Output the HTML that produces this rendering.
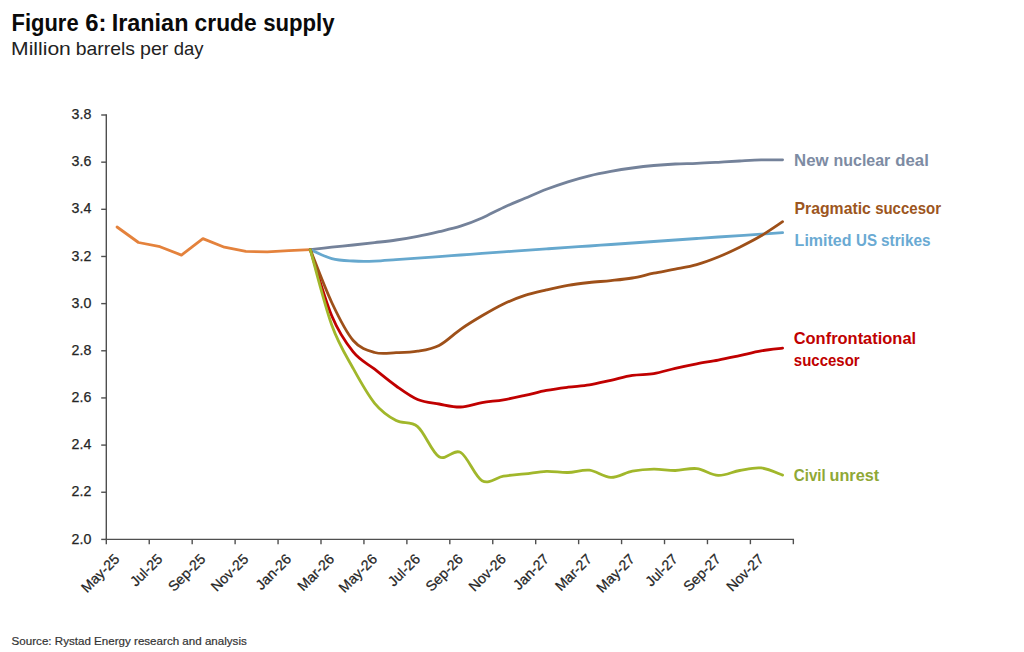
<!DOCTYPE html>
<html><head><meta charset="utf-8"><title>Figure 6: Iranian crude supply</title>
<style>
html,body{margin:0;padding:0;background:#fff;width:1024px;height:652px;overflow:hidden;}
svg{display:block;}
</style></head><body>
<svg width="1024" height="652" viewBox="0 0 1024 652">
<rect width="1024" height="652" fill="#ffffff"/>
<g font-family="Liberation Sans, sans-serif" font-weight="bold" font-size="23.3"><text y="30.60" fill="#0a0a0a"><tspan x="11.59" textLength="67.03" lengthAdjust="spacingAndGlyphs">Figure</tspan> <tspan x="85.18" textLength="21.23" lengthAdjust="spacingAndGlyphs">6:</tspan> <tspan x="111.69" textLength="76.75" lengthAdjust="spacingAndGlyphs">Iranian</tspan> <tspan x="194.62" textLength="62.12" lengthAdjust="spacingAndGlyphs">crude</tspan> <tspan x="263.14" textLength="71.42" lengthAdjust="spacingAndGlyphs">supply</tspan></text></g>
<g font-family="Liberation Sans, sans-serif" font-size="18.5"><text y="55.10" fill="#222222"><tspan x="11.09" textLength="59.77" lengthAdjust="spacingAndGlyphs">Million</tspan> <tspan x="75.75" textLength="59.23" lengthAdjust="spacingAndGlyphs">barrels</tspan> <tspan x="140.03" textLength="28.34" lengthAdjust="spacingAndGlyphs">per</tspan> <tspan x="173.80" textLength="29.75" lengthAdjust="spacingAndGlyphs">day</tspan></text></g>
<g stroke="#4f4f4f" stroke-width="1.4" fill="none"><line x1="106.30" y1="114.30" x2="106.30" y2="540.10"/><line x1="105.60" y1="539.40" x2="794.04" y2="539.40"/><line x1="106.30" y1="539.40" x2="106.30" y2="544.2"/><line x1="149.24" y1="539.40" x2="149.24" y2="544.2"/><line x1="192.18" y1="539.40" x2="192.18" y2="544.2"/><line x1="235.12" y1="539.40" x2="235.12" y2="544.2"/><line x1="278.06" y1="539.40" x2="278.06" y2="544.2"/><line x1="321.00" y1="539.40" x2="321.00" y2="544.2"/><line x1="363.94" y1="539.40" x2="363.94" y2="544.2"/><line x1="406.88" y1="539.40" x2="406.88" y2="544.2"/><line x1="449.82" y1="539.40" x2="449.82" y2="544.2"/><line x1="492.76" y1="539.40" x2="492.76" y2="544.2"/><line x1="535.70" y1="539.40" x2="535.70" y2="544.2"/><line x1="578.64" y1="539.40" x2="578.64" y2="544.2"/><line x1="621.58" y1="539.40" x2="621.58" y2="544.2"/><line x1="664.52" y1="539.40" x2="664.52" y2="544.2"/><line x1="707.46" y1="539.40" x2="707.46" y2="544.2"/><line x1="750.40" y1="539.40" x2="750.40" y2="544.2"/><line x1="793.34" y1="539.40" x2="793.34" y2="544.2"/><line x1="101.2" y1="115.00" x2="106.30" y2="115.00"/><line x1="101.2" y1="162.16" x2="106.30" y2="162.16"/><line x1="101.2" y1="209.31" x2="106.30" y2="209.31"/><line x1="101.2" y1="256.47" x2="106.30" y2="256.47"/><line x1="101.2" y1="303.62" x2="106.30" y2="303.62"/><line x1="101.2" y1="350.78" x2="106.30" y2="350.78"/><line x1="101.2" y1="397.93" x2="106.30" y2="397.93"/><line x1="101.2" y1="445.09" x2="106.30" y2="445.09"/><line x1="101.2" y1="492.24" x2="106.30" y2="492.24"/><line x1="101.2" y1="539.40" x2="106.30" y2="539.40"/></g>
<g font-family="Liberation Sans, sans-serif" font-size="14.2" fill="#262626" stroke="#262626" stroke-width="0.25" text-anchor="end"><text x="91.3" y="119.10">3.8</text><text x="91.3" y="166.26">3.6</text><text x="91.3" y="213.41">3.4</text><text x="91.3" y="260.57">3.2</text><text x="91.3" y="307.72">3.0</text><text x="91.3" y="354.88">2.8</text><text x="91.3" y="402.03">2.6</text><text x="91.3" y="449.19">2.4</text><text x="91.3" y="496.34">2.2</text><text x="91.3" y="543.50">2.0</text></g>
<g font-family="Liberation Sans, sans-serif" font-size="14.2" fill="#262626" stroke="#262626" stroke-width="0.25" text-anchor="end"><text x="120.40" y="560.00" transform="rotate(-45 120.40 560.00)">May-25</text><text x="163.34" y="560.00" transform="rotate(-45 163.34 560.00)">Jul-25</text><text x="206.28" y="560.00" transform="rotate(-45 206.28 560.00)">Sep-25</text><text x="249.22" y="560.00" transform="rotate(-45 249.22 560.00)">Nov-25</text><text x="292.16" y="560.00" transform="rotate(-45 292.16 560.00)">Jan-26</text><text x="335.10" y="560.00" transform="rotate(-45 335.10 560.00)">Mar-26</text><text x="378.04" y="560.00" transform="rotate(-45 378.04 560.00)">May-26</text><text x="420.98" y="560.00" transform="rotate(-45 420.98 560.00)">Jul-26</text><text x="463.92" y="560.00" transform="rotate(-45 463.92 560.00)">Sep-26</text><text x="506.86" y="560.00" transform="rotate(-45 506.86 560.00)">Nov-26</text><text x="549.80" y="560.00" transform="rotate(-45 549.80 560.00)">Jan-27</text><text x="592.74" y="560.00" transform="rotate(-45 592.74 560.00)">Mar-27</text><text x="635.68" y="560.00" transform="rotate(-45 635.68 560.00)">May-27</text><text x="678.62" y="560.00" transform="rotate(-45 678.62 560.00)">Jul-27</text><text x="721.56" y="560.00" transform="rotate(-45 721.56 560.00)">Sep-27</text><text x="764.50" y="560.00" transform="rotate(-45 764.50 560.00)">Nov-27</text></g>
<g fill="none" stroke-width="2.8" stroke-linecap="round" stroke-linejoin="round"><path d="M117.03,227.00 L138.50,242.50 L159.97,246.70 L181.44,255.10 L202.91,238.60 L224.38,247.20 L245.86,251.40 L267.32,251.90 L288.80,250.70 L310.26,249.60" stroke="#E4823C"/><path d="M310.26,249.60 C313.84,249.20 324.58,247.97 331.74,247.20 C338.89,246.43 346.05,245.77 353.20,245.00 C360.36,244.23 367.52,243.43 374.68,242.60 C381.83,241.77 388.99,241.05 396.14,240.00 C403.30,238.95 410.46,237.70 417.62,236.30 C424.77,234.90 431.93,233.28 439.08,231.60 C446.24,229.92 453.40,228.47 460.56,226.20 C467.71,223.93 474.87,221.13 482.02,218.00 C489.18,214.87 496.34,210.68 503.50,207.40 C510.65,204.12 517.81,201.32 524.96,198.30 C532.12,195.28 539.28,192.05 546.43,189.30 C553.59,186.55 560.75,184.05 567.90,181.80 C575.06,179.55 582.22,177.53 589.38,175.80 C596.53,174.07 603.69,172.70 610.84,171.40 C618.00,170.10 625.16,168.98 632.31,168.00 C639.47,167.02 646.63,166.17 653.78,165.50 C660.94,164.83 668.10,164.35 675.25,164.00 C682.41,163.65 689.57,163.68 696.72,163.40 C703.88,163.12 711.04,162.70 718.19,162.30 C725.35,161.90 732.51,161.40 739.66,161.00 C746.82,160.60 753.98,160.10 761.13,159.90 C768.29,159.70 779.03,159.82 782.60,159.80" stroke="#74829A"/><path d="M310.26,249.60 C313.84,251.10 324.58,256.70 331.74,258.60 C338.89,260.50 346.05,260.58 353.20,261.00 C360.36,261.42 367.52,261.33 374.68,261.10 C381.83,260.87 388.99,260.10 396.14,259.60 C403.30,259.10 410.46,258.58 417.62,258.10 C424.77,257.62 431.93,257.22 439.08,256.70 C446.24,256.18 453.40,255.55 460.56,255.00 C467.71,254.45 474.87,253.92 482.02,253.40 C489.18,252.88 496.34,252.40 503.50,251.90 C510.65,251.40 517.81,250.90 524.96,250.40 C532.12,249.90 539.28,249.40 546.43,248.90 C553.59,248.40 560.75,247.88 567.90,247.40 C575.06,246.92 582.22,246.48 589.38,246.00 C596.53,245.52 603.69,245.00 610.84,244.50 C618.00,244.00 625.16,243.50 632.31,243.00 C639.47,242.50 646.63,242.00 653.78,241.50 C660.94,241.00 668.10,240.50 675.25,240.00 C682.41,239.50 689.57,239.00 696.72,238.50 C703.88,238.00 711.04,237.48 718.19,237.00 C725.35,236.52 732.51,236.08 739.66,235.60 C746.82,235.12 753.98,234.60 761.13,234.10 C768.29,233.60 779.03,232.85 782.60,232.60" stroke="#66A8CE"/><path d="M310.26,249.60 C313.84,260.63 324.58,298.75 331.74,315.80 C338.89,332.85 346.05,343.00 353.20,351.90 C360.36,360.80 367.52,363.52 374.68,369.20 C381.83,374.88 388.99,380.95 396.14,386.00 C403.30,391.05 410.46,396.50 417.62,399.50 C424.77,402.50 431.93,402.75 439.08,404.00 C446.24,405.25 453.40,407.23 460.56,407.00 C467.71,406.77 474.87,403.80 482.02,402.60 C489.18,401.40 496.34,401.00 503.50,399.80 C510.65,398.60 517.81,396.97 524.96,395.40 C532.12,393.83 539.28,391.77 546.43,390.40 C553.59,389.03 560.75,388.12 567.90,387.20 C575.06,386.28 582.22,386.05 589.38,384.90 C596.53,383.75 603.69,381.88 610.84,380.30 C618.00,378.72 625.16,376.52 632.31,375.40 C639.47,374.28 646.63,374.78 653.78,373.60 C660.94,372.42 668.10,369.93 675.25,368.30 C682.41,366.67 689.57,365.17 696.72,363.80 C703.88,362.43 711.04,361.47 718.19,360.10 C725.35,358.73 732.51,357.13 739.66,355.60 C746.82,354.07 753.98,352.13 761.13,350.90 C768.29,349.67 779.03,348.65 782.60,348.20" stroke="#C00000"/><path d="M310.26,249.60 C313.84,258.42 324.58,287.35 331.74,302.50 C338.89,317.65 346.05,332.17 353.20,340.50 C360.36,348.83 367.52,350.47 374.68,352.50 C381.83,354.53 388.99,352.92 396.14,352.70 C403.30,352.48 410.46,352.42 417.62,351.20 C424.77,349.98 431.93,349.05 439.08,345.40 C446.24,341.75 453.40,334.23 460.56,329.30 C467.71,324.37 474.87,320.02 482.02,315.80 C489.18,311.58 496.34,307.40 503.50,304.00 C510.65,300.60 517.81,297.75 524.96,295.40 C532.12,293.05 539.28,291.58 546.43,289.90 C553.59,288.22 560.75,286.53 567.90,285.30 C575.06,284.07 582.22,283.28 589.38,282.50 C596.53,281.72 603.69,281.35 610.84,280.60 C618.00,279.85 625.16,279.23 632.31,278.00 C639.47,276.77 646.63,274.67 653.78,273.20 C660.94,271.73 668.10,270.63 675.25,269.20 C682.41,267.77 689.57,266.63 696.72,264.60 C703.88,262.57 711.04,259.90 718.19,257.00 C725.35,254.10 732.51,250.73 739.66,247.20 C746.82,243.67 753.98,240.05 761.13,235.80 C768.29,231.55 779.03,224.05 782.60,221.70" stroke="#9E5019"/><path d="M310.26,249.60 C313.84,262.17 324.58,305.18 331.74,325.00 C338.89,344.82 346.05,355.45 353.20,368.50 C360.36,381.55 367.52,394.62 374.68,403.30 C381.83,411.98 388.99,416.72 396.14,420.60 C403.30,424.48 410.46,420.57 417.62,426.60 C424.77,432.63 431.93,452.50 439.08,456.80 C446.24,461.10 453.40,448.42 460.56,452.40 C467.71,456.38 474.87,476.75 482.02,480.70 C489.18,484.65 496.34,477.23 503.50,476.10 C510.65,474.97 517.81,474.70 524.96,473.90 C532.12,473.10 539.28,471.53 546.43,471.30 C553.59,471.07 560.75,472.68 567.90,472.50 C575.06,472.32 582.22,469.38 589.38,470.20 C596.53,471.02 603.69,477.23 610.84,477.40 C618.00,477.57 625.16,472.58 632.31,471.20 C639.47,469.82 646.63,469.22 653.78,469.10 C660.94,468.98 668.10,470.58 675.25,470.50 C682.41,470.42 689.57,467.78 696.72,468.60 C703.88,469.42 711.04,475.08 718.19,475.40 C725.35,475.72 732.51,471.75 739.66,470.50 C746.82,469.25 753.98,467.13 761.13,467.90 C768.29,468.67 779.03,473.90 782.60,475.10" stroke="#A1B72B"/></g>
<g font-family="Liberation Sans, sans-serif" font-weight="bold" font-size="16.2"><text y="165.80" fill="#7D8BA3"><tspan x="794.06" textLength="34.53" lengthAdjust="spacingAndGlyphs">New</tspan> <tspan x="833.51" textLength="56.79" lengthAdjust="spacingAndGlyphs">nuclear</tspan> <tspan x="895.28" textLength="33.56" lengthAdjust="spacingAndGlyphs">deal</tspan></text><text y="213.90" fill="#9C5520"><tspan x="794.53" textLength="76.37" lengthAdjust="spacingAndGlyphs">Pragmatic</tspan> <tspan x="875.14" textLength="65.85" lengthAdjust="spacingAndGlyphs">succesor</tspan></text><text y="246.10" fill="#6AAAD3"><tspan x="794.61" textLength="56.87" lengthAdjust="spacingAndGlyphs">Limited</tspan> <tspan x="856.06" textLength="21.00" lengthAdjust="spacingAndGlyphs">US</tspan> <tspan x="881.03" textLength="49.45" lengthAdjust="spacingAndGlyphs">strikes</tspan></text><text y="344.00" fill="#C00000"><tspan x="793.69" textLength="122.43" lengthAdjust="spacingAndGlyphs">Confrontational</tspan></text><text y="366.20" fill="#C00000"><tspan x="793.84" textLength="65.85" lengthAdjust="spacingAndGlyphs">succesor</tspan></text><text y="481.20" fill="#8FA835"><tspan x="793.84" textLength="31.89" lengthAdjust="spacingAndGlyphs">Civil</tspan> <tspan x="829.50" textLength="49.60" lengthAdjust="spacingAndGlyphs">unrest</tspan></text></g>
<text x="11.6" y="644.8" font-family="Liberation Sans, sans-serif" font-size="11.8" fill="#333333" stroke="#333333" stroke-width="0.2" textLength="235.2" lengthAdjust="spacingAndGlyphs">Source: Rystad Energy research and analysis</text>

</svg>
</body></html>
